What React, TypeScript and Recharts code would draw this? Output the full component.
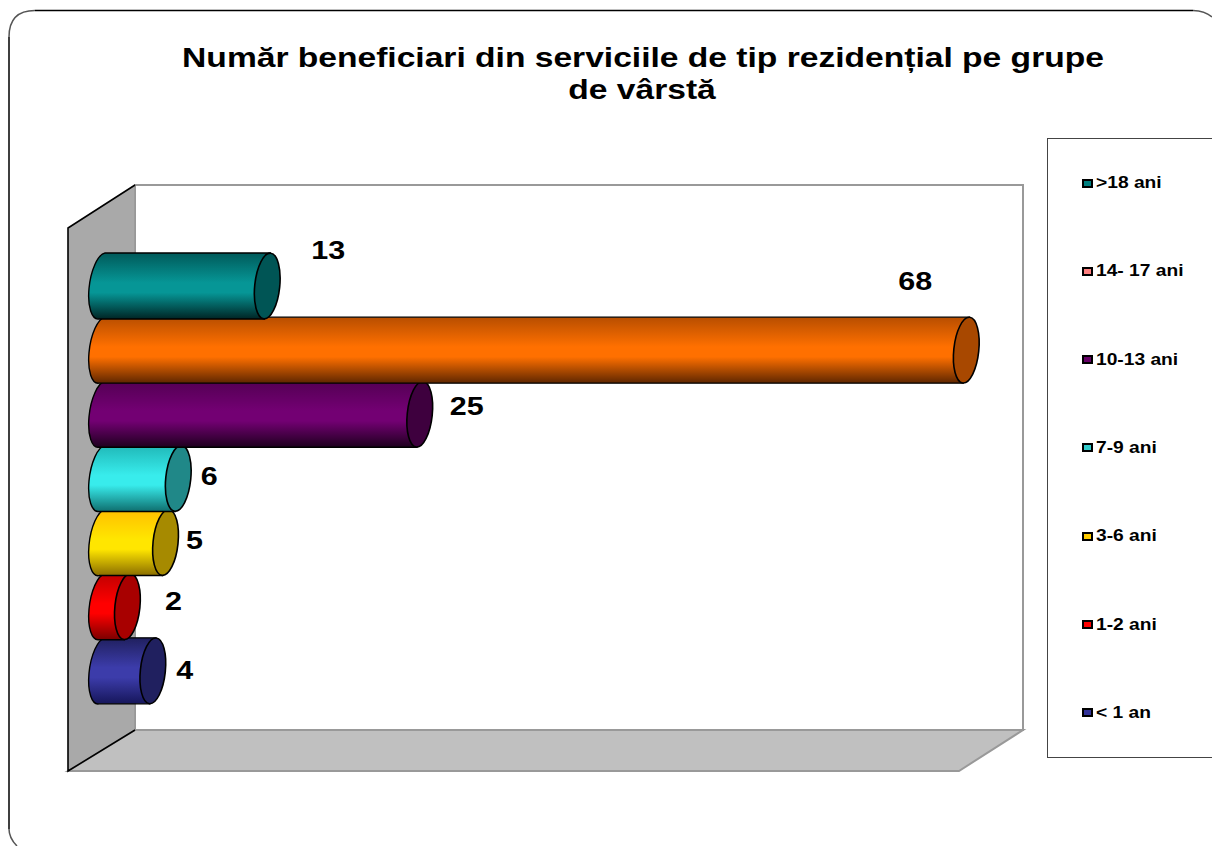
import React from "react";
import { BarChart, Bar, XAxis, YAxis, Legend, LabelList, Customized } from "recharts";

const categories = ["< 1 an", "1-2 ani", "3-6 ani", "7-9 ani", "10-13 ani", "14- 17 ani", ">18 ani"];
const values = [4, 2, 5, 6, 25, 68, 13];
const legendColors = ["#333399", "#FF0000", "#FFCC00", "#33CCCC", "#660066", "#FF8080", "#008080"];
const midColors = ["#3C3CAA", "#FF0000", "#FFE600", "#38ECEC", "#730073", "#FF7000", "#069696"];
const edgeColors = ["#20205F", "#C00000", "#FFBF00", "#20B8B8", "#540054", "#B84E00", "#005A5A"];
const lowColors = ["#16165A", "#7A0000", "#8A6D00", "#0F6E6E", "#1E001E", "#5E2600", "#002424"];
const capColors = ["#20205F", "#A80000", "#A68A00", "#208888", "#3E003E", "#A84800", "#005555"];
const labelNudges = [[32, -1], [46, -6], [29, -3], [31, -2], [47, -8], [-51, -69], [61, -36]];

const data = categories.map((name, i) => ({ name, value: values[i] }));
const FONT = '"Liberation Sans", Arial, sans-serif';

function Cylinder(props: any) {
  const { x, y, width, height, index } = props;
  const top = y - 1;
  const bot = y + height + 1;
  const cy = (top + bot) / 2;
  const ry = (bot - top) / 2;
  const rx = 12.5;
  const lean = 3;
  const end = x + width;
  return (
    <g>
      <path
        d={`M${x + lean},${top} L${end + lean},${top} L${end - lean},${bot} L${x - lean},${bot} A${rx},${ry} 8 0 1 ${x + lean},${top} Z`}
        fill={`url(#cyl${index})`}
        stroke="#000"
        strokeWidth={1.4}
      />
      <ellipse cx={end} cy={cy} rx={rx} ry={ry} transform={`rotate(6 ${end} ${cy})`} fill={capColors[index]} stroke="#000" strokeWidth={1.6} />
    </g>
  );
}

function Stretched({ cx, cy, size, stretch, children }: any) {
  return (
    <text
      transform={`translate(${cx} ${cy}) scale(${stretch} 1)`}
      textAnchor="middle"
      fontFamily={FONT}
      fontWeight={700}
      fontSize={size}
      fill="#000"
    >
      {children}
    </text>
  );
}

function ValueLabel(props: any) {
  const { x, y, width, height, index, value } = props;
  const [dx, dy] = labelNudges[index];
  return (
    <Stretched cx={x + width + dx} cy={y + height / 2 + dy + 9} size={25} stretch={1.22}>
      {value}
    </Stretched>
  );
}

function Scene() {
  return (
    <g>
      <defs>
        {categories.map((_, i) => (
          <linearGradient key={i} id={`cyl${i}`} x1="0" y1="0" x2="0" y2="1">
            <stop offset="0" stopColor={edgeColors[i]} />
            <stop offset="0.45" stopColor={midColors[i]} />
            <stop offset="0.6" stopColor={midColors[i]} />
            <stop offset="1" stopColor={lowColors[i]} />
          </linearGradient>
        ))}
      </defs>
      <path d="M35,10.5 H1193 M9,37 V829" fill="none" stroke="#000" strokeWidth={1.5} />
      <path d="M9,37 Q9,10.5 35,10.5 M1193,10.5 Q1205,11 1212,17 M9,829 Q9,838 17,846" fill="none" stroke="#555" strokeWidth={1.5} />
      <rect x={135} y={185} width={888} height={545} fill="#fff" stroke="#999" strokeWidth={2} />
      <polygon points="68,771 135,730 1023,730 959,771" fill="#C0C0C0" stroke="#999" strokeWidth={2} />
      <polygon points="68,228 135,185 135,730 68,771" fill="#A9A9A9" />
      <path d="M135,730 V185" stroke="#999" strokeWidth={1.5} fill="none" />
      <path d="M135,730 L68,771 V228 L135,185" stroke="#000" strokeWidth={1.6} fill="none" />
      <Stretched cx={643} cy={67} size={28} stretch={1.2}>Număr beneficiari din serviciile de tip rezidențial pe grupe</Stretched>
      <Stretched cx={642} cy={99} size={28} stretch={1.2}>de vârstă</Stretched>
    </g>
  );
}

function LegendBox() {
  const rows = [...categories].reverse();
  const colors = [...legendColors].reverse();
  return (
    <div style={{ width: 165, height: 618, borderLeft: "1.5px solid #444", borderTop: "1.5px solid #444", borderBottom: "1.5px solid #444", display: "flex", flexDirection: "column", justifyContent: "space-around", overflow: "hidden" }}>
      {rows.map((r, i) => (
        <div key={r} style={{ display: "flex", alignItems: "center", paddingLeft: 34, height: 20, marginTop: -2, position: "relative", top: 1 }}>
          <span style={{ width: 7, height: 5, background: colors[i], border: "2px solid #000", display: "inline-block", flex: "none" }} />
          <span style={{ marginLeft: 3, fontFamily: FONT, fontWeight: 700, fontSize: 16, color: "#000", whiteSpace: "nowrap", transform: "scaleX(1.2)", transformOrigin: "left center" }}>{r}</span>
        </div>
      ))}
    </div>
  );
}

export default function App() {
  return (
    <div style={{ position: "absolute", left: 0, top: 0, width: 1212, height: 846, overflow: "hidden", background: "#fff" }}>
      <BarChart
        width={1212}
        height={846}
        data={data}
        layout="vertical"
        barCategoryGap={0}
        margin={{ top: 254, right: 220.3, bottom: 143, left: 102 }}
      >
        <Customized component={Scene} />
        <XAxis type="number" domain={[0, 70]} hide />
        <YAxis type="category" dataKey="name" reversed hide />
        <Legend
          layout="vertical"
          align="center"
          verticalAlign="middle"
          wrapperStyle={{ left: 1047, top: 138, width: 167 }}
          content={<LegendBox />}
        />
        <Bar dataKey="value" isAnimationActive={false} shape={<Cylinder />}>
          <LabelList dataKey="value" content={<ValueLabel />} />
        </Bar>
      </BarChart>
    </div>
  );
}
